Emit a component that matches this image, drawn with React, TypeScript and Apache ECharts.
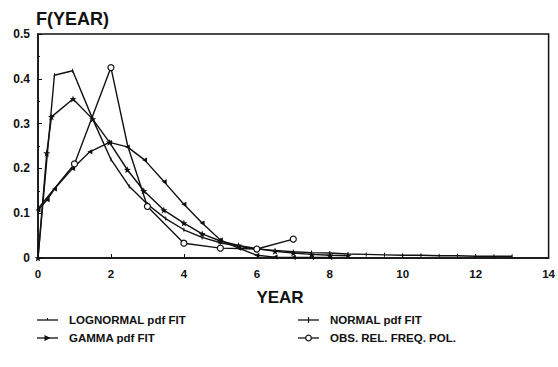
import React, { useEffect, useRef } from "react";
import * as echarts from "echarts";

const xTicks = [0, 2, 4, 6, 8, 10, 12, 14];
const yTicks = [0, 0.1, 0.2, 0.3, 0.4, 0.5];

const lognormalX = [0, 0.45, 0.95, 1.5, 2, 2.5, 3, 3.5, 4, 4.5, 5, 5.5, 6, 6.5, 7, 7.5, 8, 8.5, 9, 9.5, 10, 10.5, 11, 11.5, 12, 12.5, 13];
const lognormalY = [0, 0.408, 0.418, 0.31, 0.22, 0.16, 0.12, 0.088, 0.063, 0.046, 0.034, 0.026, 0.02, 0.017, 0.014, 0.012, 0.011, 0.009, 0.008, 0.007, 0.006, 0.006, 0.005, 0.005, 0.004, 0.004, 0.004];

const normalX = [0, 0.25, 0.45, 0.95, 1.42, 1.96, 2.45, 2.92, 3.46, 4, 4.5, 5, 5.5, 6, 6.5, 7, 7.5, 8];
const normalY = [0.107, 0.13, 0.154, 0.2, 0.237, 0.258, 0.248, 0.219, 0.17, 0.12, 0.078, 0.04, 0.022, 0.006, 0.002, 0.001, 0.001, 0.001];

const gammaX = [0, 0.24, 0.37, 0.96, 1.5, 1.96, 2.45, 2.9, 3.45, 4, 4.5, 5, 5.5, 6, 6.5, 7, 7.5, 8, 8.5];
const gammaY = [0, 0.234, 0.315, 0.355, 0.31, 0.258, 0.197, 0.15, 0.107, 0.078, 0.054, 0.038, 0.028, 0.021, 0.015, 0.011, 0.008, 0.006, 0.005];

const obsX = [0, 1, 2, 2.46, 3, 4, 5, 6, 7];
const obsY = [0.11, 0.21, 0.425, 0.25, 0.115, 0.033, 0.022, 0.02, 0.042];
const obsMarked = [false, true, true, false, true, true, true, true, true];

const legendNames = ["LOGNORMAL pdf FIT", "NORMAL pdf FIT", "GAMMA pdf FIT", "OBS. REL. FREQ. POL."];

const FONT = "'Liberation Sans', Arial, sans-serif";
const STAR = "path://M0,-10 L2.4,-3.2 L9.5,-3.1 L3.8,1.2 L5.9,8.1 L0,4 L-5.9,8.1 L-3.8,1.2 L-9.5,-3.1 L-2.4,-3.2 Z";
const TICK = "path://M-0.5,-5 L0.5,-5 L0.5,5 L-0.5,5 Z";

const pairs = (xs: number[], ys: number[]) => xs.map((x, i) => [x, ys[i]]);

export default function App() {
  const ref = useRef<HTMLDivElement>(null);
  useEffect(() => {
    const chart = echarts.init(ref.current!, null, { renderer: "svg" });
    const lineStyle = { color: "#111", width: 1.4 };
    const legendRows = [
      { x: 37, y: 320, name: legendNames[0], symbol: "tick" },
      { x: 298, y: 320, name: legendNames[1], symbol: "tri" },
      { x: 37, y: 338, name: legendNames[2], symbol: "star" },
      { x: 298, y: 338, name: legendNames[3], symbol: "circle" },
    ];
    const legendGraphics: any[] = [];
    legendRows.forEach((r) => {
      legendGraphics.push({
        type: "line",
        shape: { x1: r.x, y1: r.y, x2: r.x + 21, y2: r.y },
        style: { stroke: "#111", lineWidth: 1.3 },
      });
      const cx = r.x + 10.5;
      if (r.symbol === "tick") {
        legendGraphics.push({ type: "line", shape: { x1: cx, y1: r.y - 2, x2: cx, y2: r.y }, style: { stroke: "#111", lineWidth: 1 } });
      } else if (r.symbol === "tri") {
        legendGraphics.push({ type: "line", shape: { x1: cx, y1: r.y - 3, x2: cx, y2: r.y + 3 }, style: { stroke: "#111", lineWidth: 1.2 } });
      } else if (r.symbol === "star") {
        legendGraphics.push({ type: "polygon", shape: { points: [[cx - 3, r.y - 3], [cx + 3, r.y], [cx - 3, r.y + 3]] }, style: { fill: "#111" } });
      } else {
        legendGraphics.push({ type: "circle", shape: { cx, cy: r.y, r: 2.8 }, style: { fill: "#fff", stroke: "#111", lineWidth: 1.2 } });
      }
      legendGraphics.push({
        type: "text",
        x: r.x + 32,
        y: r.y,
        style: { text: r.name, font: `bold 11.5px ${FONT}`, fill: "#111", verticalAlign: "middle" },
      });
    });

    chart.setOption({
      animation: false,
      backgroundColor: "#fff",
      grid: { left: 38, right: 6, top: 34, bottom: 109, show: true, borderColor: "#111", borderWidth: 1.5, backgroundColor: "transparent" },
      xAxis: {
        type: "value",
        min: xTicks[0],
        max: xTicks[xTicks.length - 1],
        interval: 2,
        axisLine: { show: true, lineStyle: { color: "#111", width: 1.5 } },
        axisTick: { show: true, inside: true, length: 4, lineStyle: { color: "#111" } },
        splitLine: { show: false },
        axisLabel: { color: "#111", fontFamily: FONT, fontWeight: "bold", fontSize: 11.5, margin: 10 },
      },
      yAxis: {
        type: "value",
        min: yTicks[0],
        max: yTicks[yTicks.length - 1],
        interval: 0.1,
        axisLine: { show: true, lineStyle: { color: "#111", width: 1.5 } },
        axisTick: { show: true, inside: true, length: 4, lineStyle: { color: "#111" } },
        minorTick: { show: true, splitNumber: 2, length: 2, lineStyle: { color: "#111" } },
        splitLine: { show: false },
        axisLabel: { color: "#111", fontFamily: FONT, fontWeight: "bold", fontSize: 12, margin: 8, formatter: (v: number) => (v === 0 ? "0" : v.toFixed(1)) },
      },
      graphic: [
        { type: "text", x: 36, y: 10, style: { text: "F(YEAR)", font: `bold 18px ${FONT}`, fill: "#111" } },
        { type: "text", x: 280, y: 289, style: { text: "YEAR", font: `bold 17px ${FONT}`, fill: "#111", align: "center" } },
        ...legendGraphics,
      ],
      series: [
        {
          name: legendNames[0], type: "line", data: pairs(lognormalX, lognormalY),
          symbol: TICK, symbolSize: [1, 4], lineStyle, itemStyle: { color: "#111" }, showAllSymbol: true,
        },
        {
          name: legendNames[1], type: "line", data: pairs(normalX, normalY),
          symbol: "triangle", symbolSize: 5, symbolRotate: 90, lineStyle, itemStyle: { color: "#111" }, showAllSymbol: true,
        },
        {
          name: legendNames[2], type: "line", data: pairs(gammaX, gammaY),
          symbol: STAR, symbolSize: 7, lineStyle, itemStyle: { color: "#111" }, showAllSymbol: true,
        },
        {
          name: legendNames[3], type: "line",
          data: obsX.map((x, i) => (obsMarked[i] ? { value: [x, obsY[i]] } : { value: [x, obsY[i]], symbol: "none" })),
          symbol: "circle", symbolSize: 6, lineStyle, itemStyle: { color: "#fff", borderColor: "#111", borderWidth: 1.2 }, showAllSymbol: true,
        },
      ],
    });
    return () => chart.dispose();
  }, []);
  return <div ref={ref} style={{ width: 558, height: 367, position: "absolute", left: 0, top: 0 }} />;
}
